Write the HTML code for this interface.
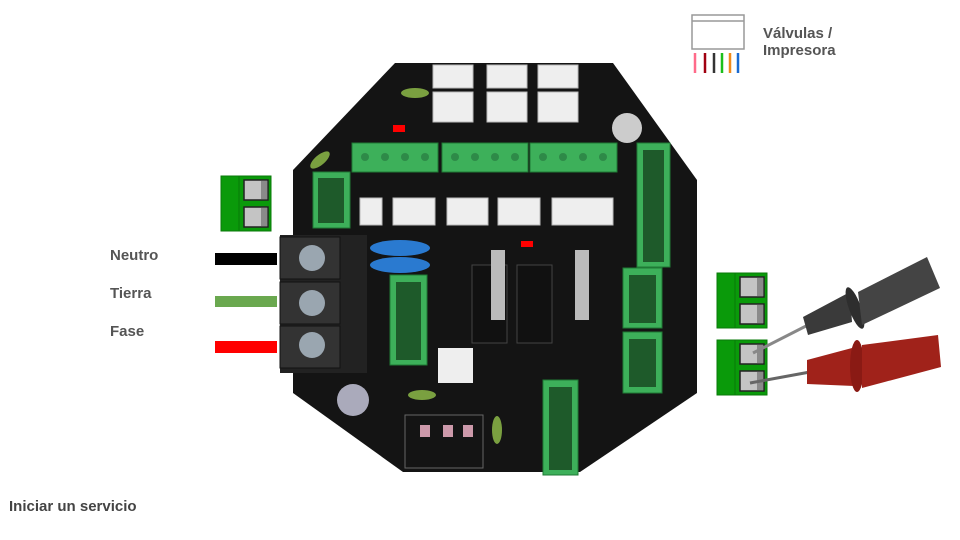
<!DOCTYPE html>
<html><head><meta charset="utf-8"><style>
html,body{margin:0;padding:0;background:#fff;}
body{width:960px;height:540px;position:relative;overflow:hidden;font-family:"Liberation Sans",sans-serif;}
.t{position:absolute;font-weight:bold;color:#555;font-size:15px;}
</style></head><body>
<svg width="960" height="540" style="position:absolute;left:0;top:0">
<defs>
<g id="tb">
<rect x="0" y="0" width="50" height="55" fill="#0a9a0a" stroke="#0a7a0a"/>
<line x1="18" y1="0" x2="18" y2="55" stroke="#087a08"/>
<rect x="23" y="4" width="24" height="20" fill="#c4c4c4" stroke="#222" stroke-width="1.5"/>
<rect x="40" y="5" width="6" height="18" fill="#8a8a8a"/>
<rect x="23" y="31" width="24" height="20" fill="#c4c4c4" stroke="#222" stroke-width="1.5"/>
<rect x="40" y="32" width="6" height="18" fill="#8a8a8a"/>
</g>
</defs>
<rect x="692" y="15" width="52" height="34" fill="#fff" stroke="#999" stroke-width="1.5"/>
<line x1="692" y1="21" x2="744" y2="21" stroke="#999" stroke-width="1.5"/>
<g stroke-width="2.5">
<line x1="695" y1="53" x2="695" y2="73" stroke="#ff6b8a"/>
<line x1="705" y1="53" x2="705" y2="73" stroke="#a00010"/>
<line x1="714" y1="53" x2="714" y2="73" stroke="#333"/>
<line x1="722" y1="53" x2="722" y2="73" stroke="#1bbf1b"/>
<line x1="730" y1="53" x2="730" y2="73" stroke="#f08a1a"/>
<line x1="738" y1="53" x2="738" y2="73" stroke="#1a6ad0"/>
</g>
<rect x="215" y="253" width="62" height="12" fill="#000"/>
<rect x="215" y="296" width="62" height="11" fill="#6aa84f"/>
<rect x="215" y="341" width="62" height="12" fill="#f00"/>
<use href="#tb" x="221" y="176"/>
<use href="#tb" x="717" y="273"/>
<use href="#tb" x="717" y="340"/>
<polygon points="395,63 613,63 697,180 697,393 580,472 403,472 293,393 293,170" fill="#141414"/>
<g fill="#eee" stroke="#bbb">
<rect x="433" y="65" width="40" height="23"/><rect x="487" y="65" width="40" height="23"/><rect x="538" y="65" width="40" height="23"/>
<rect x="433" y="92" width="40" height="30"/><rect x="487" y="92" width="40" height="30"/><rect x="538" y="92" width="40" height="30"/>
<rect x="360" y="198" width="22" height="27"/><rect x="393" y="198" width="42" height="27"/><rect x="447" y="198" width="41" height="27"/><rect x="498" y="198" width="42" height="27"/><rect x="552" y="198" width="61" height="27"/>
</g>
<rect x="393" y="125" width="12" height="7" fill="#f00"/>
<rect x="521" y="241" width="12" height="6" fill="#f00"/>
<g fill="#3db05a" stroke="#1f7a35">
<rect x="352" y="143" width="86" height="29"/><rect x="442" y="143" width="86" height="29"/><rect x="530" y="143" width="87" height="29"/>
<rect x="313" y="172" width="37" height="56"/>
<rect x="637" y="143" width="33" height="124"/>
<rect x="390" y="275" width="37" height="90"/>
<rect x="623" y="268" width="39" height="60"/><rect x="623" y="332" width="39" height="61"/>
<rect x="543" y="380" width="35" height="95"/>
</g>
<g fill="#1e5a2a">
<rect x="318" y="178" width="26" height="45"/><rect x="396" y="282" width="25" height="78"/>
<rect x="629" y="275" width="27" height="48"/><rect x="629" y="339" width="27" height="48"/>
<rect x="549" y="387" width="23" height="83"/><rect x="643" y="150" width="21" height="112"/>
</g>
<g fill="#2e8a48">
<circle cx="365" cy="157" r="4"/><circle cx="385" cy="157" r="4"/><circle cx="405" cy="157" r="4"/><circle cx="425" cy="157" r="4"/>
<circle cx="455" cy="157" r="4"/><circle cx="475" cy="157" r="4"/><circle cx="495" cy="157" r="4"/><circle cx="515" cy="157" r="4"/>
<circle cx="543" cy="157" r="4"/><circle cx="563" cy="157" r="4"/><circle cx="583" cy="157" r="4"/><circle cx="603" cy="157" r="4"/>
</g>
<rect x="280" y="235" width="87" height="138" fill="#222"/>
<rect x="280" y="237" width="60" height="42" fill="#333" stroke="#111"/>
<rect x="280" y="282" width="60" height="42" fill="#333" stroke="#111"/>
<rect x="280" y="326" width="60" height="42" fill="#333" stroke="#111"/>
<circle cx="312" cy="258" r="13" fill="#9aa6b0"/><circle cx="312" cy="303" r="13" fill="#9aa6b0"/><circle cx="312" cy="345" r="13" fill="#9aa6b0"/>
<ellipse cx="400" cy="248" rx="30" ry="8" fill="#2a7ad0"/><ellipse cx="400" cy="265" rx="30" ry="8" fill="#2a7ad0"/>
<rect x="472" y="265" width="35" height="78" fill="#111" stroke="#444"/>
<rect x="517" y="265" width="35" height="78" fill="#111" stroke="#444"/>
<rect x="491" y="250" width="14" height="70" fill="#bbb"/><rect x="575" y="250" width="14" height="70" fill="#bbb"/>
<rect x="438" y="348" width="35" height="35" fill="#eee"/>
<circle cx="353" cy="400" r="16" fill="#aab"/><circle cx="627" cy="128" r="15" fill="#ccc"/>
<rect x="405" y="415" width="78" height="53" fill="none" stroke="#666"/>
<rect x="420" y="425" width="10" height="12" fill="#c9a"/><rect x="443" y="425" width="10" height="12" fill="#c9a"/><rect x="463" y="425" width="10" height="12" fill="#c9a"/>
<ellipse cx="422" cy="395" rx="14" ry="5" fill="#7aa040"/><ellipse cx="497" cy="430" rx="5" ry="14" fill="#7aa040"/>
<ellipse cx="415" cy="93" rx="14" ry="5" fill="#7aa040"/><ellipse cx="320" cy="160" rx="12" ry="5" fill="#7aa040" transform="rotate(-40 320 160)"/>
<line x1="753" y1="353" x2="808" y2="325" stroke="#888" stroke-width="3"/>
<polygon points="803,317 850,292 852,322 808,335" fill="#3a3a3a"/>
<ellipse cx="855" cy="308" rx="6" ry="22" fill="#2e2e2e" transform="rotate(-20 855 308)"/>
<polygon points="858,292 927,257 940,288 862,325" fill="#444"/>
<line x1="750" y1="383" x2="810" y2="372" stroke="#666" stroke-width="3"/>
<polygon points="807,360 852,348 854,386 807,384" fill="#a0221a"/>
<ellipse cx="857" cy="366" rx="7" ry="26" fill="#8a1a14"/>
<polygon points="862,345 938,335 941,367 862,388" fill="#a0221a"/>
</svg>
<div class="t" style="left:763px;top:25px;">Válvulas /<br>Impresora</div>
<div class="t" style="left:110px;top:247px;">Neutro</div>
<div class="t" style="left:110px;top:285px;">Tierra</div>
<div class="t" style="left:110px;top:323px;">Fase</div>
<div class="t" style="left:9px;top:498px;color:#444;">Iniciar un servicio</div>
</body></html>
